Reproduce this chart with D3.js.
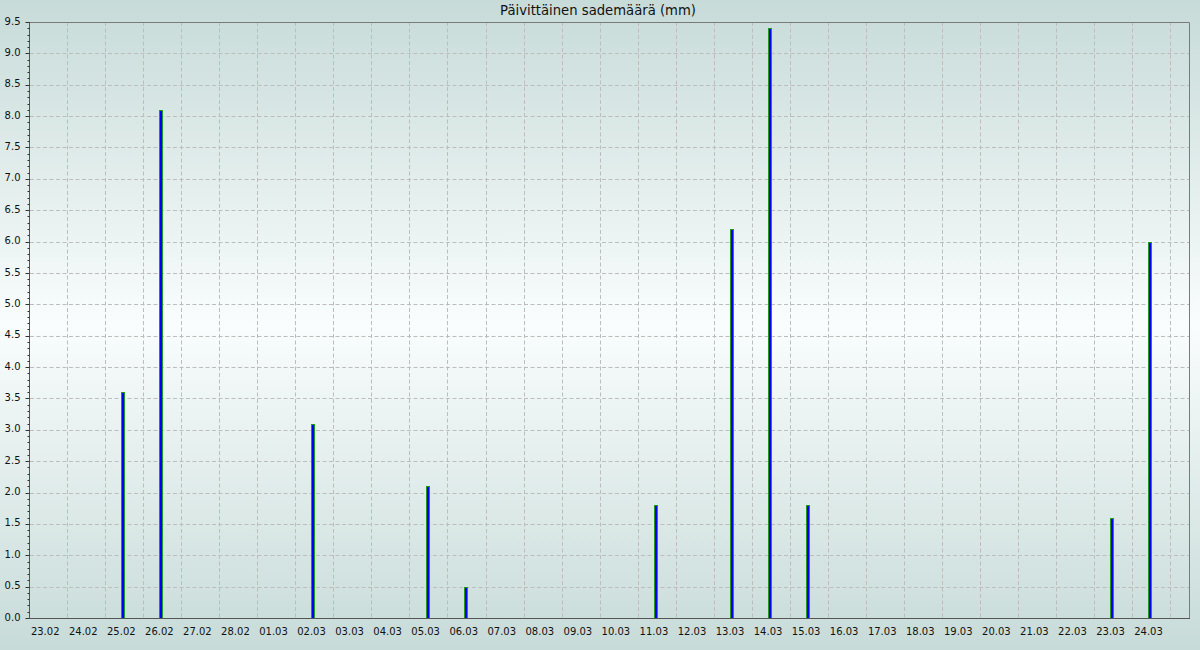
<!DOCTYPE html>
<html>
<head>
<meta charset="utf-8">
<script src="https://cdn.jsdelivr.net/npm/d3@7"></script>
<style>
  html, body { margin: 0; padding: 0; }
  svg { display: block; font-family: "DejaVu Sans", sans-serif; }
</style>
</head>
<body>
<div id="chart"></div>
<script>
// päivämäärät ja sademäärät (mm)
var days = ["23.02", "24.02", "25.02", "26.02", "27.02", "28.02", "01.03", "02.03", "03.03", "04.03",
            "05.03", "06.03", "07.03", "08.03", "09.03", "10.03", "11.03", "12.03", "13.03", "14.03",
            "15.03", "16.03", "17.03", "18.03", "19.03", "20.03", "21.03", "22.03", "23.03", "24.03"];
var rain = [0, 0, 3.6, 8.1, 0, 0, 0, 3.1, 0, 0,
            2.1, 0.5, 0, 0, 0, 0, 1.8, 0, 6.2, 9.4,
            1.8, 0, 0, 0, 0, 0, 0, 0, 1.6, 6.0];
var yMajorTicks = d3.range(0, 9.51, 0.5);
var title = "Päivittäinen sademäärä (mm)";

var W = 1200, H = 650;
var margin = {top: 22, right: 10, bottom: 32, left: 30};

var svg = d3.select("#chart").append("svg")
    .attr("width", W)
    .attr("height", H);

var grad = svg.append("defs").append("linearGradient")
    .attr("id", "bg")
    .attr("x1", 0).attr("y1", 0).attr("x2", 0).attr("y2", 1);
grad.append("stop").attr("offset", "0").attr("stop-color", "#c7dbd8");
grad.append("stop").attr("offset", "0.5").attr("stop-color", "#f9fdfd");
grad.append("stop").attr("offset", "1").attr("stop-color", "#c7dbd8");

svg.append("rect")
    .attr("width", W).attr("height", H)
    .attr("fill", "url(#bg)");

var x = d3.scaleLinear()
    .domain([0, 30.49])
    .range([margin.left, W - margin.right]);

var y = d3.scaleLinear()
    .domain([0, 9.5])
    .range([H - margin.bottom, margin.top]);

var grid = svg.append("g")
    .attr("stroke", "#bdbdbd")
    .attr("stroke-width", 1)
    .attr("stroke-dasharray", "4,2.5");

// vaakaviivat
grid.selectAll(".hgrid")
    .data(yMajorTicks.filter(function(d) { return d > 0 && d < 9.5; }))
    .enter().append("line")
    .attr("x1", x.range()[0]).attr("x2", x.range()[1])
    .attr("y1", function(d) { return Math.round(y(d)) + 0.5; })
    .attr("y2", function(d) { return Math.round(y(d)) + 0.5; });

// pystyviivat
grid.selectAll(".vgrid")
    .data(d3.range(1, days.length + 1))
    .enter().append("line")
    .attr("x1", function(d) { return Math.round(x(d)) - 0.5; })
    .attr("x2", function(d) { return Math.round(x(d)) - 0.5; })
    .attr("y1", y.range()[1]).attr("y2", y.range()[0]);

// pylväät
var dataset = days.map(function(d, i) { return {day: d, i: i, v: rain[i]}; })
    .filter(function(d) { return d.v > 0; });

svg.selectAll(".bar")
    .data(dataset)
    .enter().append("rect")
    .attr("class", "bar")
    .attr("x", function(d) { return Math.round(x(d.i + 0.45)) - 1.5; })
    .attr("width", 3)
    .attr("y", function(d) { return Math.round(y(d.v)) + 0.5; })
    .attr("height", function(d) { return Math.round(y(0)) - Math.round(y(d.v)); })
    .attr("fill", "#0000ff")
    .attr("stroke", "#1f9a1f")
    .attr("stroke-width", 1);

// kehys
var x0 = x.range()[0], x1 = x.range()[1], y0 = y.range()[0], y1 = y.range()[1];
svg.append("path")
    .attr("d", "M" + (x0 - 0.5) + "," + (y1 + 0.5) + "H" + (x1 - 0.5) + "V" + (y0 + 0.5))
    .attr("fill", "none")
    .attr("stroke", "#7a7a7a");

// y-akseli
var yAxis = svg.append("g")
    .attr("transform", "translate(" + (x0 - 0.5) + ",0)");
yAxis.append("line")
    .attr("y1", y1).attr("y2", y0 + 1)
    .attr("stroke", "#555");
yAxis.selectAll(".minor")
    .data(d3.range(0, 96).map(function(d) { return d / 10; }))
    .enter().append("line")
    .attr("x1", function(d, i) { return i % 5 === 0 ? -4 : -2; })
    .attr("x2", 0)
    .attr("y1", function(d) { return Math.round(y(d)) + 0.5; })
    .attr("y2", function(d) { return Math.round(y(d)) + 0.5; })
    .attr("stroke", "#333");
yAxis.selectAll(".ylabel")
    .data(yMajorTicks)
    .enter().append("text")
    .attr("x", -9)
    .attr("y", function(d) { return y(d) - 1; })
    .attr("dy", "0.36em")
    .attr("text-anchor", "end")
    .attr("font-size", 10)
    .attr("fill", "#111")
    .text(function(d) { return d3.format(".1f")(d); });

// x-akseli
svg.append("line")
    .attr("x1", x0 - 1).attr("x2", x1)
    .attr("y1", y0 + 0.5).attr("y2", y0 + 0.5)
    .attr("stroke", "#555");
svg.selectAll(".xlabel")
    .data(days)
    .enter().append("text")
    .attr("x", function(d, i) { return x(i + 0.4); })
    .attr("y", 635)
    .attr("text-anchor", "middle")
    .attr("font-size", 10)
    .attr("fill", "#111")
    .text(function(d) { return d; });

svg.append("text")
    .attr("x", 598)
    .attr("y", 15)
    .attr("text-anchor", "middle")
    .attr("font-size", 13.2)
    .attr("fill", "#111")
    .text(title);
</script>
</body>
</html>
